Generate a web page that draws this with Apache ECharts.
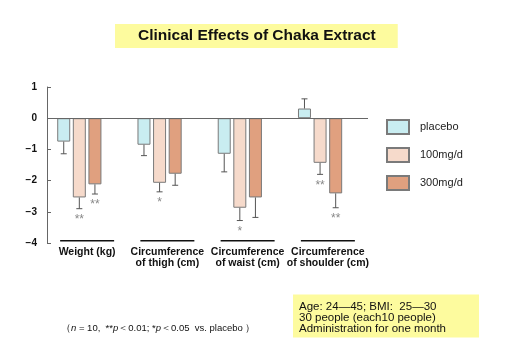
<!DOCTYPE html>
<html>
<head>
<meta charset="utf-8">
<script src="https://cdn.jsdelivr.net/npm/echarts@6/dist/echarts.min.js"></script>
<style>
  html, body { margin: 0; padding: 0; background: #fff; }
  #main { width: 507px; height: 352px; }
</style>
</head>
<body>
<div id="main"></div>
<script>
// measurement categories
const categories = ['Weight (kg)', 'Circumference\nof thigh (cm)', 'Circumference\nof waist (cm)', 'Circumference\nof shoulder (cm)']
const groups = ['placebo', '100mg/d', '300mg/d']

// mean change after one month
const placebo = [-0.75, -0.85, -1.14, 0.31]
const dose100 = [-2.54, -2.07, -2.87, -1.43]
const dose300 = [-2.12, -1.78, -2.54, -2.41]

// SD (error bar length)
const sdPlacebo = [0.39, 0.35, 0.58, 0.31]
const sd100 = [0.36, 0.29, 0.41, 0.37]
const sd300 = [0.31, 0.37, 0.64, 0.46]

// significance marks
const starsPlacebo = ['', '', '', '']
const stars100 = ['**', '*', '*', '**']
const stars300 = ['**', '', '', '**']

const yTicks = { min: -4, max: 1, interval: 1 }

const colors = ['#c9edf1', '#f6dacb', '#e0a07f']
const BAR_W = 13
const STEP = 15.6 // bar width + gap

const means = [placebo, dose100, dose300]
const sds = [sdPlacebo, sd100, sd300]
const stars = [starsPlacebo, stars100, stars300]

let errData = []
let errStars = []
means.forEach((arr, s) => {
  arr.forEach((v, i) => {
    errData.push([i, v, sds[s][i], s])
    errStars.push(stars[s][i])
  })
})

const chart = echarts.init(document.getElementById('main'))

let series = groups.map((name, s) => ({
  name: name,
  type: 'bar',
  barWidth: BAR_W,
  barGap: '20%',
  data: means[s],
  itemStyle: { color: colors[s], borderColor: '#7a7a7a', borderWidth: 1 },
  markLine: s === 0 ? {
    silent: true,
    symbol: 'none',
    label: { show: false },
    lineStyle: { color: '#666', type: 'solid', width: 1 },
    data: [{ yAxis: 0 }]
  } : undefined
}))

// empty slot so each group sits left of the category centre
series.push({
  name: 'spacer',
  type: 'bar',
  barWidth: BAR_W,
  barGap: '20%',
  silent: true,
  data: [0, 0, 0, 0],
  itemStyle: { opacity: 0 }
})

series.push({
  type: 'custom',
  silent: true,
  data: errData,
  z: 5,
  renderItem(params, api) {
    const cat = api.value(0)
    const mean = api.value(1)
    const sd = api.value(2)
    const slot = api.value(3)
    const end = mean >= 0 ? mean + sd : mean - sd
    const p0 = api.coord([cat, mean])
    const p1 = api.coord([cat, end])
    const x = p0[0] + (slot - 1.5) * STEP
    const style = { stroke: '#555', lineWidth: 1 }
    const children = [
      { type: 'line', shape: { x1: x, y1: p0[1], x2: x, y2: p1[1] }, style: style },
      { type: 'line', shape: { x1: x - 3, y1: p1[1], x2: x + 3, y2: p1[1] }, style: style }
    ]
    const st = errStars[params.dataIndex]
    if (st) {
      children.push({
        type: 'text',
        style: {
          text: st, x: x, y: p1[1] + 5, align: 'center', verticalAlign: 'top',
          fill: '#888', font: '12px "Liberation Sans", Arial, sans-serif'
        }
      })
    }
    return { type: 'group', children: children }
  }
})

chart.setOption({
  animation: false,
  textStyle: { fontFamily: '"Liberation Sans", Arial, Helvetica, sans-serif' },
  title: [
    {
      text: 'Clinical Effects of Chaka Extract',
      left: 115,
      top: 24,
      backgroundColor: '#fdfb9e',
      padding: [4, 22, 4, 23],
      textStyle: { fontSize: 15.5, fontWeight: 'bold', color: '#111' }
    },
    {
      text: 'Age: 24\u201445; BMI:  25\u201430\n30 people (each10 people)\nAdministration for one month',
      left: 293,
      top: 295,
      backgroundColor: '#fdfb9e',
      padding: [6, 33, 3, 6],
      textStyle: { fontSize: 11.5, fontWeight: 'normal', color: '#111', lineHeight: 11 }
    },
    {
      text: '（{i|n} = 10,  **{i|p}＜0.01; *{i|p}＜0.05  vs. placebo ）',
      left: 56,
      top: 318,
      textStyle: {
        fontSize: 9.5, fontWeight: 'normal', color: '#111',
        rich: { i: { fontStyle: 'italic', fontSize: 9.5, color: '#111' } }
      }
    }
  ],
  legend: {
    data: groups,
    orient: 'vertical',
    left: 381,
    top: 114,
    icon: 'rect',
    itemWidth: 22,
    itemHeight: 14,
    itemGap: 12,
    textStyle: { fontSize: 11, color: '#222', padding: [0, 0, 0, 6] }
  },
  grid: { left: 47, right: 139, top: 87, bottom: 109 },
  xAxis: {
    type: 'category',
    data: categories,
    axisLine: { show: false },
    axisTick: { show: false },
    axisLabel: {
      interval: 0,
      margin: -3,
      formatter(v) {
        return '{u|}\n{s|}\n' + v.split('\n').map(t => '{t|' + t + '}').join('\n')
      },
      rich: {
        u: { width: 54, height: 1.6, backgroundColor: '#111' },
        s: { height: 5 },
        t: { fontSize: 10.5, fontWeight: 'bold', color: '#111', lineHeight: 11 }
      }
    }
  },
  yAxis: {
    type: 'value',
    min: yTicks.min,
    max: yTicks.max,
    interval: yTicks.interval,
    splitLine: { show: false },
    axisLine: { show: true, lineStyle: { color: '#666' } },
    axisTick: { show: true, inside: true, length: 4, lineStyle: { color: '#666' } },
    axisLabel: {
      margin: 10,
      fontSize: 10,
      fontWeight: 'bold',
      color: '#111',
      formatter(v) {
        return v < 0 ? '\u2212' + Math.abs(v) : String(v)
      }
    }
  },
  series: series
})
</script>
</body>
</html>
